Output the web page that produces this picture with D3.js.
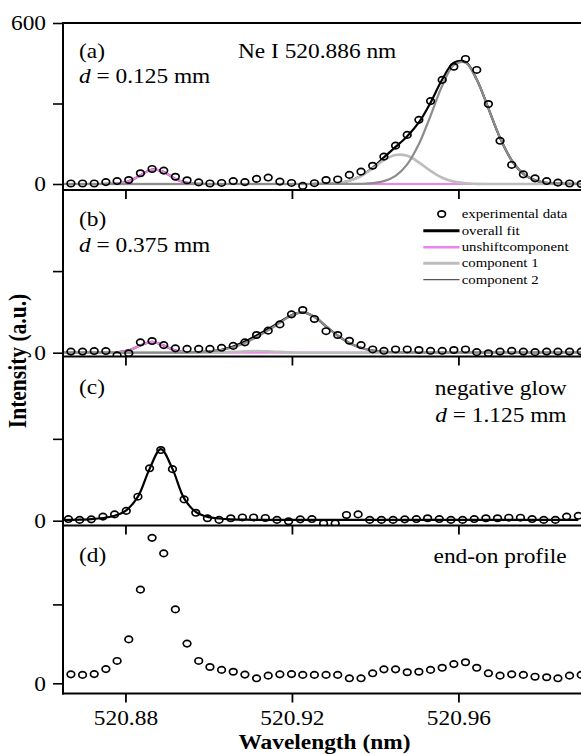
<!DOCTYPE html>
<html>
<head>
<meta charset="utf-8">
<script src="https://cdn.jsdelivr.net/npm/d3@7"></script>
<style>
  body { margin: 0; background: #fff; }
  svg { display: block; }
  text { font-family: "Liberation Serif", "Times New Roman", serif; fill: #000; }
</style>
</head>
<body>
<svg id="chart" width="581" height="754"></svg>
<script>
// ---- wavelength grids (nm) ----
const wavelength = [520.8669, 520.8697, 520.8725, 520.8753, 520.8780, 520.8808, 520.8836, 520.8864, 520.8892, 520.8920,
  520.8948, 520.8976, 520.9003, 520.9031, 520.9059, 520.9087, 520.9115, 520.9143, 520.9171, 520.9199,
  520.9226, 520.9254, 520.9282, 520.9310, 520.9338, 520.9366, 520.9394, 520.9421, 520.9449, 520.9477,
  520.9505, 520.9533, 520.9561, 520.9589, 520.9617, 520.9644, 520.9672, 520.9700, 520.9728, 520.9756,
  520.9784, 520.9812, 520.9839, 520.9867, 520.9895];
const wavelengthC = [520.8663, 520.8690, 520.8718, 520.8746, 520.8774, 520.8802, 520.8830, 520.8858, 520.8885, 520.8913,
  520.8941, 520.8969, 520.8997, 520.9025, 520.9053, 520.9081, 520.9108, 520.9136, 520.9164, 520.9192,
  520.9220, 520.9248, 520.9276, 520.9304, 520.9331, 520.9359, 520.9387, 520.9415, 520.9443, 520.9471,
  520.9499, 520.9526, 520.9554, 520.9582, 520.9610, 520.9638, 520.9666, 520.9694, 520.9721, 520.9749,
  520.9777, 520.9805, 520.9833, 520.9860, 520.9888];
const fitWavelength = [520.8641, 520.8669, 520.8697, 520.8725, 520.8753, 520.8780, 520.8808, 520.8836, 520.8864, 520.8892, 520.8920,
  520.8948, 520.8976, 520.9003, 520.9031, 520.9059, 520.9087, 520.9115, 520.9143, 520.9171, 520.9199,
  520.9226, 520.9254, 520.9282, 520.9310, 520.9338, 520.9366, 520.9394, 520.9421, 520.9449, 520.9477,
  520.9505, 520.9533, 520.9561, 520.9589, 520.9617, 520.9644, 520.9672, 520.9700, 520.9728, 520.9756,
  520.9784, 520.9812, 520.9839, 520.9867, 520.9895];
const fitWavelengthC = [520.8635, 520.8663, 520.8690, 520.8718, 520.8746, 520.8774, 520.8802, 520.8830, 520.8858, 520.8885, 520.8913,
  520.8941, 520.8969, 520.8997, 520.9025, 520.9053, 520.9081, 520.9108, 520.9136, 520.9164, 520.9192,
  520.9220, 520.9248, 520.9276, 520.9304, 520.9331, 520.9359, 520.9387, 520.9415, 520.9443, 520.9471,
  520.9499, 520.9526, 520.9554, 520.9582, 520.9610, 520.9638, 520.9666, 520.9694, 520.9721, 520.9749,
  520.9777, 520.9805, 520.9833, 520.9860, 520.9888];

// ---- measured intensities (a.u.) ----
const intensityA = [2, 2, 2, 7, 11, 15, 40, 56, 50, 27, 14, 6, 2, 4, 11, 7, 19, 24, 9, 4,
  -7, 3, 15, 17, 34, 46, 68, 102, 143, 183, 239, 309, 388, 437, 466, 425, 298, 161, 71, 36,
  21, 11, 5, 2, 0];
const intensityB = [4, 4, 6, 6, -10, -2, 38, 43, 28, 16, 14, 14, 14, 18, 25, 38, 65, 81, 104, 141,
  157, 124, 79, 65, 44, 28, 12, 7, 12, 12, 10, 7, 7, 10, 12, 2, -2, 4, 7, 4,
  2, 4, 4, 4, 4];
const intensityC = [6, 3, 5, 15, 23, 36, 88, 192, 259, 189, 78, 29, 9, 3, 9, 12, 12, 10, 3, -2,
  5, 6, -10, -10, 21, 23, 3, 3, 3, 5, 6, 9, 6, 3, 3, 6, 9, 9, 11, 11,
  6, 3, 3, 15, 18];
const intensityD = [34, 32, 35, 54, 85, 167, 356, 553, 494, 281, 151, 85, 62, 51, 44, 33, 19, 29, 34, 35,
  32, 32, 32, 32, 19, 19, 38, 53, 53, 42, 44, 51, 59, 73, 80, 59, 38, 29, 34, 32,
  25, 23, 19, 29, 32];

// ---- fitted profiles (a.u.), sampled on fitWavelength / fitWavelengthC ----
const fitA_total = [0, 0, 0, 0, 0.2, 1.5, 9.8, 32.4, 54, 45, 19, 4, 0.4, 0, 0, 0, 0, 0, 0, 0, 0,
  0, 0.2, 1, 3.8, 12.2, 30.2, 60.5, 99.3, 138.5, 178.3, 229.4, 302.8, 389.4, 451.9, 454.7, 389.6, 282, 172, 88, 38,
  14, 4.3, 1.1, 0.3, 0];
const fitA_unshift = [0, 0, 0, 0, 0.2, 1.5, 9.8, 32.4, 54, 45, 19, 4, 0.4, 0, 0, 0, 0, 0, 0, 0, 0,
  0, 0, 0, 0, 0, 0, 0, 0, 0, 0, 0, 0, 0, 0, 0, 0, 0, 0, 0, 0,
  0, 0, 0, 0, 0];
const fitA_comp1 = [0, 0, 0, 0, 0, 0, 0, 0, 0, 0, 0, 0, 0, 0, 0, 0, 0, 0, 0, 0, 0,
  0, 0.2, 1, 3.8, 11.9, 29.4, 57.3, 88.6, 108, 105, 80.4, 48.8, 23.4, 8.9, 2.7, 0.6, 0, 0, 0, 0,
  0, 0, 0, 0, 0];
const fitA_comp2 = [0, 0, 0, 0, 0, 0, 0, 0, 0, 0, 0, 0, 0, 0, 0, 0, 0, 0, 0, 0, 0,
  0, 0, 0, 0, 0.3, 0.8, 3.2, 10.7, 30.5, 73.3, 149, 254, 366, 443, 452, 389, 282, 172, 88, 38,
  14, 4.3, 1.1, 0.3, 0];

const fitB_total = [0, 0, 0, 0, 0, 1.2, 8.4, 27.2, 40, 26.5, 7.9, 2.1, 2, 5, 11, 23, 41, 63, 87, 113, 138,
  148, 132, 97, 63, 36, 18, 8, 3, 1, 0, 0, 0, 0, 0, 0, 0, 0, 0, 0, 0,
  0, 0, 0, 0, 0];
const fitB_unshift = [0, 0, 0, 0, 0, 1.2, 8.4, 27.2, 40, 26.5, 7.9, 1.1, 0, 0, 0, 0, 0, 0, 0, 0, 0,
  0, 0, 0, 0, 0, 0, 0, 0, 0, 0, 0, 0, 0, 0, 0, 0, 0, 0, 0, 0,
  0, 0, 0, 0, 0];
const fitB_comp1 = [0, 0, 0, 0, 0, 0, 0, 0, 0, 0, 0, 0, 0, 0, 1, 3, 5, 6, 5, 3, 1,
  0, 0, 0, 0, 0, 0, 0, 0, 0, 0, 0, 0, 0, 0, 0, 0, 0, 0, 0, 0,
  0, 0, 0, 0, 0];
const fitB_comp2 = [0, 0, 0, 0, 0, 0, 0, 0, 0, 0, 0, 1, 2, 5, 10, 20, 36, 57, 82, 110, 137,
  148, 132, 97, 63, 36, 18, 8, 3, 1, 0, 0, 0, 0, 0, 0, 0, 0, 0, 0, 0,
  0, 0, 0, 0, 0];

const fitC_total = [2, 3, 4, 6, 10, 18, 38, 88, 190, 262, 190, 82, 32, 14, 8, 5, 4, 3, 3, 3, 3,
  3, 3, 3, 3, 3, 3, 3, 3, 3, 3, 3, 3, 3, 3, 3, 3, 3, 3, 3, 3,
  3, 3, 3, 3, 3];

// ---- axis ticks and labels ----
const xTickValues = [520.88, 520.92, 520.96];
const xTickLabels = ["520.88", "520.92", "520.96"];
const panelLabels = ["(a)", "(b)", "(c)", "(d)"];
const legendLabels = ["experimental data", "overall fit", "unshiftcomponent", "component 1", "component 2"];

// ---- drawing ----
const W = 581, H = 754;
const STRETCH = 1.14;           // horizontal glyph stretch of the figure
const FONT = 20.5;
const svg = d3.select("#chart");

const x = d3.scaleLinear().domain([520.865, 520.99]).range([63, 583.3]);

const style = {
  total:   { stroke: "#000000", width: 2.2 },
  unshift: { stroke: "#ee82ee", width: 2.2 },
  comp1:   { stroke: "#bdbdbd", width: 2.6 },
  comp2:   { stroke: "#8c8c8c", width: 2.2 }
};

const panels = [
  { top: 23,    zero: 184,   bottom: 190,   wl: wavelength,  data: intensityA, yTicks: [0, 300, 600],
    fits: [[fitWavelength, fitA_total, style.total], [fitWavelength, fitA_unshift, style.unshift],
           [fitWavelength, fitA_comp1, style.comp1], [fitWavelength, fitA_comp2, style.comp2]] },
  { top: 189.5, zero: 352.7, bottom: 356.5, wl: wavelength,  data: intensityB, yTicks: [0, 300],
    fits: [[fitWavelength, fitB_total, style.total], [fitWavelength, fitB_unshift, style.unshift],
           [fitWavelength, fitB_comp1, style.comp1], [fitWavelength, fitB_comp2, style.comp2]] },
  { top: 357,   zero: 520.7, bottom: 525.5, wl: wavelengthC, data: intensityC, yTicks: [0, 300],
    fits: [[fitWavelengthC, fitC_total, style.total]] },
  { top: 525.5, zero: 683.3, bottom: 693.5, wl: wavelength,  data: intensityD, yTicks: [0, 300],
    fits: [] }
];

function addText(parent, px, py, size, anchor, weight) {
  return parent.append("text")
    .attr("transform", `translate(${px},${py}) scale(${STRETCH},1)`)
    .attr("font-size", size)
    .attr("text-anchor", anchor || "start")
    .attr("font-weight", weight || "normal");
}

const defs = svg.append("defs");

panels.forEach((p, i) => {
  const y = d3.scaleLinear().domain([0, 600]).range([p.zero, p.top]);
  const clipId = "clip" + i;
  defs.append("clipPath").attr("id", clipId)
    .append("rect").attr("x", 63).attr("y", p.top).attr("width", W - 63).attr("height", p.bottom - p.top);

  const g = svg.append("g");
  const plot = g.append("g").attr("clip-path", `url(#${clipId})`);

  const line = d3.line()
    .x(d => x(d[0]))
    .y(d => y(d[1]))
    .curve(d3.curveCatmullRom.alpha(0.5));

  p.fits.forEach(([wl, vals, st]) => {
    plot.append("path")
      .datum(wl.map((w, k) => [w, vals[k]]))
      .attr("d", line)
      .attr("fill", "none")
      .attr("stroke", st.stroke)
      .attr("stroke-width", st.width)
      .attr("stroke-linejoin", "round");
  });

  plot.selectAll("ellipse.pt")
    .data(p.wl.map((w, k) => [w, p.data[k]]))
    .join("ellipse")
    .attr("class", "pt")
    .attr("cx", d => x(d[0]))
    .attr("cy", d => y(d[1]))
    .attr("rx", 3.8)
    .attr("ry", 3.2)
    .attr("fill", "none")
    .attr("stroke", "#000")
    .attr("stroke-width", 1.7);

  // bottom axis of the panel (outward ticks)
  const xAxis = d3.axisBottom(x)
    .tickValues(xTickValues)
    .tickSize(9)
    .tickSizeOuter(0)
    .tickFormat((d, k) => i === panels.length - 1 ? xTickLabels[k] : "");
  const xg = g.append("g").attr("transform", `translate(0,${p.bottom})`).call(xAxis);
  xg.select(".domain").remove();
  xg.selectAll("line").attr("stroke", "#000").attr("stroke-width", 1.8);
  xg.selectAll("text")
    .attr("font-family", null)
    .attr("font-size", FONT)
    .attr("dy", null)
    .attr("y", 31.5)
    .attr("transform", `scale(${STRETCH},1)`);
  xg.attr("font-family", null).attr("font-size", null);

  // left axis of the panel
  const yAxis = d3.axisLeft(y)
    .tickValues(p.yTicks)
    .tickSize(10)
    .tickSizeOuter(0)
    .tickFormat(d => d === 300 ? "" : String(d));
  const yg = g.append("g").attr("transform", "translate(63,0)").call(yAxis);
  yg.select(".domain").remove();
  yg.selectAll("line").attr("stroke", "#000").attr("stroke-width", 1.6);
  yg.selectAll("text")
    .attr("font-size", FONT)
    .attr("x", -17 / STRETCH)
    .attr("dy", "0.33em")
    .attr("transform", `scale(${STRETCH},1)`);
  yg.attr("font-family", null).attr("font-size", null);

  // panel separator
  g.append("line")
    .attr("x1", 62).attr("x2", W).attr("y1", p.bottom).attr("y2", p.bottom)
    .attr("stroke", "#000").attr("stroke-width", 2);
});

// outer frame: top edge and left spine
svg.append("line").attr("x1", 62).attr("x2", W).attr("y1", 23).attr("y2", 23)
  .attr("stroke", "#000").attr("stroke-width", 2);
svg.append("line").attr("x1", 63).attr("x2", 63).attr("y1", 22).attr("y2", 694.5)
  .attr("stroke", "#000").attr("stroke-width", 2);

// panel annotations
const labelTops = [58, 225.5, 394, 561.5];
panelLabels.forEach((t, i) => addText(svg, 79, labelTops[i], FONT).text(t));

function distanceLabel(px, py, value, anchor) {
  const t = addText(svg, px, py, FONT, anchor);
  t.append("tspan").attr("font-style", "italic").text("d");
  t.append("tspan").text(" = " + value + " mm");
}
distanceLabel(79, 82.5, "0.125");
distanceLabel(79, 251.5, "0.375");
addText(svg, 238, 57.5, FONT).text("Ne I 520.886 nm");
addText(svg, 566.5, 395, FONT, "end").text("negative glow");
distanceLabel(566.5, 421.5, "1.125", "end");
addText(svg, 566.5, 563, FONT, "end").text("end-on profile");

// legend inside panel (b)
const legend = svg.append("g");
const legendRows = [217.5, 234.5, 251, 267, 283.5];
legend.append("ellipse").attr("cx", 441.7).attr("cy", 214).attr("rx", 3.8).attr("ry", 3.2)
  .attr("fill", "none").attr("stroke", "#000").attr("stroke-width", 1.7);
const legendStyles = [null,
  { stroke: "#000000", width: 3 },
  { stroke: "#ee82ee", width: 2.4 },
  { stroke: "#bdbdbd", width: 3 },
  { stroke: "#555555", width: 1.2 }];
legendStyles.forEach((st, k) => {
  if (st) {
    legend.append("line")
      .attr("x1", 423.3).attr("x2", 459.5)
      .attr("y1", legendRows[k] - 3.8).attr("y2", legendRows[k] - 3.8)
      .attr("stroke", st.stroke).attr("stroke-width", st.width);
  }
  addText(legend, 461.7, legendRows[k], 13).text(legendLabels[k]);
});

// axis titles
addText(svg, 324.5, 749, FONT, "middle", "bold").text("Wavelength (nm)");
svg.append("text")
  .attr("transform", `translate(26.3,361) rotate(-90) scale(1,${STRETCH})`)
  .attr("font-size", 21.5)
  .attr("font-weight", "bold")
  .attr("text-anchor", "middle")
  .text("Intensity (a.u.)");
</script>
</body>
</html>
